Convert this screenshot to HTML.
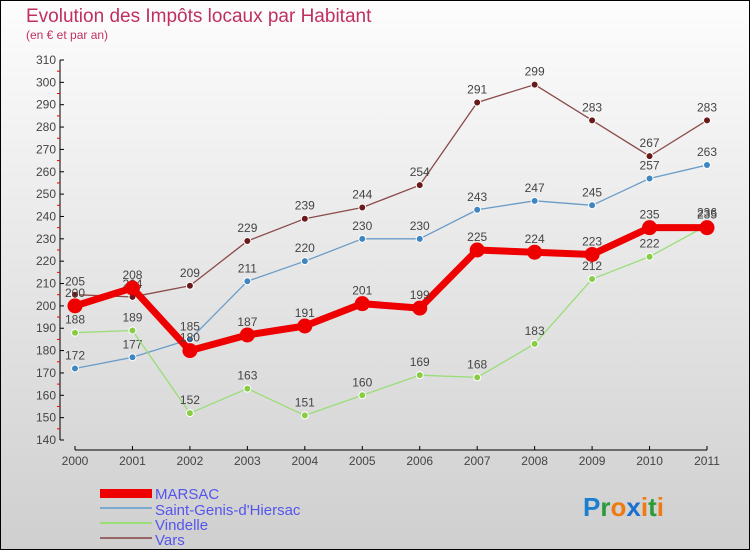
<!DOCTYPE html>
<html><head><meta charset="utf-8"><style>
body{margin:0;width:750px;height:550px;overflow:hidden}
svg{display:block;font-family:"Liberation Sans",sans-serif}
</style></head><body>
<svg id="chart" width="750" height="550">
<defs><linearGradient id="bg" x1="0" y1="0" x2="0" y2="1"><stop offset="0" stop-color="#fdfdfd"/><stop offset="1" stop-color="#cfcfcf"/></linearGradient></defs>
<rect x="0.5" y="0.5" width="749" height="549" fill="url(#bg)" stroke="#000"/>
<text x="26" y="22" font-size="19" fill="#c0305e">Evolution des Impôts locaux par Habitant</text>
<text x="26" y="39" font-size="12" fill="#c0305e">(en € et par an)</text>
<g id="axes"></g><g id="series"></g>
<g>
<rect x="100" y="489" width="52" height="9" fill="#e00"/>
<text x="155" y="499" font-size="15" fill="#5555ee">MARSAC</text>
<line x1="100" y1="508" x2="152" y2="508" stroke="#7aaad0" stroke-width="2"/>
<text x="155" y="515" font-size="15" fill="#5555ee">Saint-Genis-d'Hiersac</text>
<line x1="100" y1="523" x2="152" y2="523" stroke="#99dd77" stroke-width="2"/>
<text x="155" y="530" font-size="15" fill="#5555ee">Vindelle</text>
<line x1="100" y1="538" x2="152" y2="538" stroke="#996666" stroke-width="2"/>
<text x="155" y="545" font-size="15" fill="#5555ee">Vars</text>
</g>
<text x="583" y="516" font-size="26" font-weight="bold"><tspan fill="#1a7fd0">P</tspan><tspan fill="#2a9a3a">r</tspan><tspan fill="#f07a10">o</tspan><tspan fill="#1a6fd0">x</tspan><tspan fill="#f07a10">i</tspan><tspan fill="#2a9a3a">t</tspan><tspan fill="#f07a10">i</tspan></text>
</svg>
<script>
const years=["2000","2001","2002","2003","2004","2005","2006","2007","2008","2009","2010","2011"];
const marsac=[200,208,180,187,191,201,199,225,224,223,235,235];
const saintGenis=[172,177,185,211,220,230,230,243,247,245,257,263];
const vindelle=[188,189,152,163,151,160,169,168,183,212,222,236];
const vars=[205,204,209,229,239,244,254,291,299,283,267,283];
const yTicks=[140,150,160,170,180,190,200,210,220,230,240,250,260,270,280,290,300,310];
const NS="http://www.w3.org/2000/svg";
const x=i=>75+i*(632/11);
const y=v=>440-(v-140)*(380/170);
function mk(t,a,p){const e=document.createElementNS(NS,t);for(const k in a)e.setAttribute(k,a[k]);p.appendChild(e);return e;}
const ax=document.getElementById('axes');
let l=mk('line',{x1:60,y1:y(310),x2:60,y2:y(140),stroke:'#000'},ax);


l=mk('line',{x1:75,y1:450,x2:707,y2:450,stroke:'#000'},ax);


yTicks.forEach(v=>{
 mk('line',{x1:60,y1:y(v),x2:64,y2:y(v),stroke:'#000'},ax);
 mk('line',{x1:57,y1:y(v+5),x2:60,y2:y(v+5),stroke:'#e00'},ax).style.display=v<310?'':'none';
 const t=mk('text',{x:56,y:y(v)+4,'font-size':12,fill:'#444','text-anchor':'end'},ax);t.textContent=v;
 
 
});
years.forEach((yr,i)=>{
 mk('line',{x1:x(i),y1:446,x2:x(i),y2:450,stroke:'#000'},ax);
 const t=mk('text',{x:x(i),y:465,'font-size':12,fill:'#444','text-anchor':'middle'},ax);t.textContent=yr;
 
 
});
const sg=document.getElementById('series');
function draw(d,name,col,w,r,dot,dotStroke){
 const g=mk('g',{},sg);
 
 
 mk('polyline',{points:d.map((v,i)=>x(i)+','+y(v)).join(' '),fill:'none',stroke:col,'stroke-width':w,'stroke-linejoin':'round'},g);
 d.forEach((v,i)=>{
  const c=mk('circle',{cx:x(i),cy:y(v),r:r,fill:dot,stroke:dotStroke,'stroke-width':1},g);
  
  
  const t=mk('text',{x:x(i),y:y(v)-9,'font-size':12,fill:'#444','text-anchor':'middle'},g);t.textContent=v;
  
  
 });
}
draw(vars,'vars','#8b4a4a',1.3,3.5,'#6a1a1a','#fff');
draw(saintGenis,'saint-genis','#6a9cc8',1.3,3.5,'#3f85c0','#fff');
draw(vindelle,'vindelle','#99dd77',1.3,3.5,'#88cc44','#fff');
draw(marsac,'marsac','#ee0000',7,7,'#ee0000','#ee0000');
</script>
</body></html>
